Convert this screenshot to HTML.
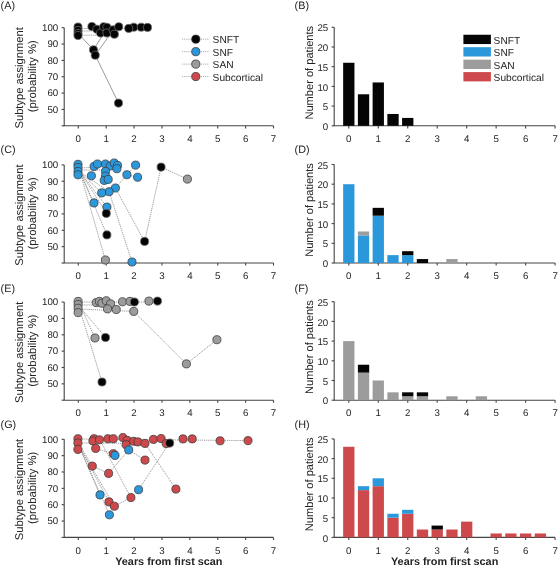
<!DOCTYPE html><html><head><meta charset="utf-8"><style>html,body{margin:0;padding:0;background:#fff;width:560px;height:567px;overflow:hidden}</style></head><body><svg width="560" height="567" viewBox="0 0 560 567" style="display:block;filter:blur(0.35px)" text-rendering="geometricPrecision" font-family='"Liberation Sans", sans-serif' fill="#232323">
<rect width="560" height="567" fill="#fff"/>
<text x="0.60" y="9.30" font-size="10.8" text-anchor="start" font-weight="normal" >(A)</text>
<text x="294.60" y="9.30" font-size="10.8" text-anchor="start" font-weight="normal" >(B)</text>
<text x="0.60" y="152.90" font-size="10.8" text-anchor="start" font-weight="normal" >(C)</text>
<text x="294.60" y="152.90" font-size="10.8" text-anchor="start" font-weight="normal" >(D)</text>
<text x="0.60" y="291.90" font-size="10.8" text-anchor="start" font-weight="normal" >(E)</text>
<text x="294.60" y="291.90" font-size="10.8" text-anchor="start" font-weight="normal" >(F)</text>
<text x="0.60" y="427.50" font-size="10.8" text-anchor="start" font-weight="normal" >(G)</text>
<text x="294.60" y="427.50" font-size="10.8" text-anchor="start" font-weight="normal" >(H)</text>
<path d="M64.20,27.70V125.80H273.50" fill="none" stroke="#444" stroke-width="1.1"/>
<path d="M61.60,125.80H64.20" stroke="#444" stroke-width="1.1"/>
<path d="M61.60,109.45H64.20" stroke="#444" stroke-width="1.1"/>
<text x="58.20" y="112.75" font-size="9.7" text-anchor="end" font-weight="normal" >50</text>
<path d="M61.60,93.10H64.20" stroke="#444" stroke-width="1.1"/>
<text x="58.20" y="96.40" font-size="9.7" text-anchor="end" font-weight="normal" >60</text>
<path d="M61.60,76.75H64.20" stroke="#444" stroke-width="1.1"/>
<text x="58.20" y="80.05" font-size="9.7" text-anchor="end" font-weight="normal" >70</text>
<path d="M61.60,60.40H64.20" stroke="#444" stroke-width="1.1"/>
<text x="58.20" y="63.70" font-size="9.7" text-anchor="end" font-weight="normal" >80</text>
<path d="M61.60,44.05H64.20" stroke="#444" stroke-width="1.1"/>
<text x="58.20" y="47.35" font-size="9.7" text-anchor="end" font-weight="normal" >90</text>
<path d="M61.60,27.70H64.20" stroke="#444" stroke-width="1.1"/>
<text x="58.20" y="31.00" font-size="9.7" text-anchor="end" font-weight="normal" >100</text>
<path d="M78.30,125.80V128.40" stroke="#444" stroke-width="1.1"/>
<text x="78.30" y="141.90" font-size="9.7" text-anchor="middle" font-weight="normal" >0</text>
<path d="M106.19,125.80V128.40" stroke="#444" stroke-width="1.1"/>
<text x="106.19" y="141.90" font-size="9.7" text-anchor="middle" font-weight="normal" >1</text>
<path d="M134.07,125.80V128.40" stroke="#444" stroke-width="1.1"/>
<text x="134.07" y="141.90" font-size="9.7" text-anchor="middle" font-weight="normal" >2</text>
<path d="M161.96,125.80V128.40" stroke="#444" stroke-width="1.1"/>
<text x="161.96" y="141.90" font-size="9.7" text-anchor="middle" font-weight="normal" >3</text>
<path d="M189.84,125.80V128.40" stroke="#444" stroke-width="1.1"/>
<text x="189.84" y="141.90" font-size="9.7" text-anchor="middle" font-weight="normal" >4</text>
<path d="M217.73,125.80V128.40" stroke="#444" stroke-width="1.1"/>
<text x="217.73" y="141.90" font-size="9.7" text-anchor="middle" font-weight="normal" >5</text>
<path d="M245.62,125.80V128.40" stroke="#444" stroke-width="1.1"/>
<text x="245.62" y="141.90" font-size="9.7" text-anchor="middle" font-weight="normal" >6</text>
<path d="M273.50,125.80V128.40" stroke="#444" stroke-width="1.1"/>
<text x="273.50" y="141.90" font-size="9.7" text-anchor="middle" font-weight="normal" >7</text>
<text transform="translate(23.3,77.85) rotate(-90)" font-size="11.2" text-anchor="middle">Subtype assignment</text>
<text transform="translate(35.8,76.25) rotate(-90)" font-size="11.3" text-anchor="middle">(probability %)</text>
<path d="M334.20,27.30V125.80H555.09" fill="none" stroke="#444" stroke-width="1.1"/>
<path d="M331.60,125.80H334.20" stroke="#444" stroke-width="1.1"/>
<text x="328.20" y="129.90" font-size="9.7" text-anchor="end" font-weight="normal" >0</text>
<path d="M331.60,106.10H334.20" stroke="#444" stroke-width="1.1"/>
<text x="328.20" y="110.20" font-size="9.7" text-anchor="end" font-weight="normal" >5</text>
<path d="M331.60,86.40H334.20" stroke="#444" stroke-width="1.1"/>
<text x="328.20" y="90.50" font-size="9.7" text-anchor="end" font-weight="normal" >10</text>
<path d="M331.60,66.70H334.20" stroke="#444" stroke-width="1.1"/>
<text x="328.20" y="70.80" font-size="9.7" text-anchor="end" font-weight="normal" >15</text>
<path d="M331.60,47.00H334.20" stroke="#444" stroke-width="1.1"/>
<text x="328.20" y="51.10" font-size="9.7" text-anchor="end" font-weight="normal" >20</text>
<path d="M331.60,27.30H334.20" stroke="#444" stroke-width="1.1"/>
<text x="328.20" y="31.40" font-size="9.7" text-anchor="end" font-weight="normal" >25</text>
<path d="M348.80,125.80V128.40" stroke="#444" stroke-width="1.1"/>
<text x="348.80" y="141.90" font-size="9.7" text-anchor="middle" font-weight="normal" >0</text>
<path d="M378.27,125.80V128.40" stroke="#444" stroke-width="1.1"/>
<text x="378.27" y="141.90" font-size="9.7" text-anchor="middle" font-weight="normal" >1</text>
<path d="M407.74,125.80V128.40" stroke="#444" stroke-width="1.1"/>
<text x="407.74" y="141.90" font-size="9.7" text-anchor="middle" font-weight="normal" >2</text>
<path d="M437.21,125.80V128.40" stroke="#444" stroke-width="1.1"/>
<text x="437.21" y="141.90" font-size="9.7" text-anchor="middle" font-weight="normal" >3</text>
<path d="M466.68,125.80V128.40" stroke="#444" stroke-width="1.1"/>
<text x="466.68" y="141.90" font-size="9.7" text-anchor="middle" font-weight="normal" >4</text>
<path d="M496.15,125.80V128.40" stroke="#444" stroke-width="1.1"/>
<text x="496.15" y="141.90" font-size="9.7" text-anchor="middle" font-weight="normal" >5</text>
<path d="M525.62,125.80V128.40" stroke="#444" stroke-width="1.1"/>
<text x="525.62" y="141.90" font-size="9.7" text-anchor="middle" font-weight="normal" >6</text>
<path d="M555.09,125.80V128.40" stroke="#444" stroke-width="1.1"/>
<text x="555.09" y="141.90" font-size="9.7" text-anchor="middle" font-weight="normal" >7</text>
<text transform="translate(312.8,72.75) rotate(-90)" font-size="11.1" text-anchor="middle">Number of patients</text>
<path d="M64.20,164.90V263.00H273.50" fill="none" stroke="#444" stroke-width="1.1"/>
<path d="M61.60,263.00H64.20" stroke="#444" stroke-width="1.1"/>
<path d="M61.60,246.65H64.20" stroke="#444" stroke-width="1.1"/>
<text x="58.20" y="249.95" font-size="9.7" text-anchor="end" font-weight="normal" >50</text>
<path d="M61.60,230.30H64.20" stroke="#444" stroke-width="1.1"/>
<text x="58.20" y="233.60" font-size="9.7" text-anchor="end" font-weight="normal" >60</text>
<path d="M61.60,213.95H64.20" stroke="#444" stroke-width="1.1"/>
<text x="58.20" y="217.25" font-size="9.7" text-anchor="end" font-weight="normal" >70</text>
<path d="M61.60,197.60H64.20" stroke="#444" stroke-width="1.1"/>
<text x="58.20" y="200.90" font-size="9.7" text-anchor="end" font-weight="normal" >80</text>
<path d="M61.60,181.25H64.20" stroke="#444" stroke-width="1.1"/>
<text x="58.20" y="184.55" font-size="9.7" text-anchor="end" font-weight="normal" >90</text>
<path d="M61.60,164.90H64.20" stroke="#444" stroke-width="1.1"/>
<text x="58.20" y="168.20" font-size="9.7" text-anchor="end" font-weight="normal" >100</text>
<path d="M78.30,263.00V265.60" stroke="#444" stroke-width="1.1"/>
<text x="78.30" y="279.10" font-size="9.7" text-anchor="middle" font-weight="normal" >0</text>
<path d="M106.19,263.00V265.60" stroke="#444" stroke-width="1.1"/>
<text x="106.19" y="279.10" font-size="9.7" text-anchor="middle" font-weight="normal" >1</text>
<path d="M134.07,263.00V265.60" stroke="#444" stroke-width="1.1"/>
<text x="134.07" y="279.10" font-size="9.7" text-anchor="middle" font-weight="normal" >2</text>
<path d="M161.96,263.00V265.60" stroke="#444" stroke-width="1.1"/>
<text x="161.96" y="279.10" font-size="9.7" text-anchor="middle" font-weight="normal" >3</text>
<path d="M189.84,263.00V265.60" stroke="#444" stroke-width="1.1"/>
<text x="189.84" y="279.10" font-size="9.7" text-anchor="middle" font-weight="normal" >4</text>
<path d="M217.73,263.00V265.60" stroke="#444" stroke-width="1.1"/>
<text x="217.73" y="279.10" font-size="9.7" text-anchor="middle" font-weight="normal" >5</text>
<path d="M245.62,263.00V265.60" stroke="#444" stroke-width="1.1"/>
<text x="245.62" y="279.10" font-size="9.7" text-anchor="middle" font-weight="normal" >6</text>
<path d="M273.50,263.00V265.60" stroke="#444" stroke-width="1.1"/>
<text x="273.50" y="279.10" font-size="9.7" text-anchor="middle" font-weight="normal" >7</text>
<text transform="translate(23.3,215.05) rotate(-90)" font-size="11.2" text-anchor="middle">Subtype assignment</text>
<text transform="translate(35.8,213.45) rotate(-90)" font-size="11.3" text-anchor="middle">(probability %)</text>
<path d="M334.20,164.50V263.00H555.09" fill="none" stroke="#444" stroke-width="1.1"/>
<path d="M331.60,263.00H334.20" stroke="#444" stroke-width="1.1"/>
<text x="328.20" y="267.10" font-size="9.7" text-anchor="end" font-weight="normal" >0</text>
<path d="M331.60,243.30H334.20" stroke="#444" stroke-width="1.1"/>
<text x="328.20" y="247.40" font-size="9.7" text-anchor="end" font-weight="normal" >5</text>
<path d="M331.60,223.60H334.20" stroke="#444" stroke-width="1.1"/>
<text x="328.20" y="227.70" font-size="9.7" text-anchor="end" font-weight="normal" >10</text>
<path d="M331.60,203.90H334.20" stroke="#444" stroke-width="1.1"/>
<text x="328.20" y="208.00" font-size="9.7" text-anchor="end" font-weight="normal" >15</text>
<path d="M331.60,184.20H334.20" stroke="#444" stroke-width="1.1"/>
<text x="328.20" y="188.30" font-size="9.7" text-anchor="end" font-weight="normal" >20</text>
<path d="M331.60,164.50H334.20" stroke="#444" stroke-width="1.1"/>
<text x="328.20" y="168.60" font-size="9.7" text-anchor="end" font-weight="normal" >25</text>
<path d="M348.80,263.00V265.60" stroke="#444" stroke-width="1.1"/>
<text x="348.80" y="279.10" font-size="9.7" text-anchor="middle" font-weight="normal" >0</text>
<path d="M378.27,263.00V265.60" stroke="#444" stroke-width="1.1"/>
<text x="378.27" y="279.10" font-size="9.7" text-anchor="middle" font-weight="normal" >1</text>
<path d="M407.74,263.00V265.60" stroke="#444" stroke-width="1.1"/>
<text x="407.74" y="279.10" font-size="9.7" text-anchor="middle" font-weight="normal" >2</text>
<path d="M437.21,263.00V265.60" stroke="#444" stroke-width="1.1"/>
<text x="437.21" y="279.10" font-size="9.7" text-anchor="middle" font-weight="normal" >3</text>
<path d="M466.68,263.00V265.60" stroke="#444" stroke-width="1.1"/>
<text x="466.68" y="279.10" font-size="9.7" text-anchor="middle" font-weight="normal" >4</text>
<path d="M496.15,263.00V265.60" stroke="#444" stroke-width="1.1"/>
<text x="496.15" y="279.10" font-size="9.7" text-anchor="middle" font-weight="normal" >5</text>
<path d="M525.62,263.00V265.60" stroke="#444" stroke-width="1.1"/>
<text x="525.62" y="279.10" font-size="9.7" text-anchor="middle" font-weight="normal" >6</text>
<path d="M555.09,263.00V265.60" stroke="#444" stroke-width="1.1"/>
<text x="555.09" y="279.10" font-size="9.7" text-anchor="middle" font-weight="normal" >7</text>
<text transform="translate(312.8,209.95) rotate(-90)" font-size="11.1" text-anchor="middle">Number of patients</text>
<path d="M64.20,302.10V400.20H273.50" fill="none" stroke="#444" stroke-width="1.1"/>
<path d="M61.60,400.20H64.20" stroke="#444" stroke-width="1.1"/>
<path d="M61.60,383.85H64.20" stroke="#444" stroke-width="1.1"/>
<text x="58.20" y="387.15" font-size="9.7" text-anchor="end" font-weight="normal" >50</text>
<path d="M61.60,367.50H64.20" stroke="#444" stroke-width="1.1"/>
<text x="58.20" y="370.80" font-size="9.7" text-anchor="end" font-weight="normal" >60</text>
<path d="M61.60,351.15H64.20" stroke="#444" stroke-width="1.1"/>
<text x="58.20" y="354.45" font-size="9.7" text-anchor="end" font-weight="normal" >70</text>
<path d="M61.60,334.80H64.20" stroke="#444" stroke-width="1.1"/>
<text x="58.20" y="338.10" font-size="9.7" text-anchor="end" font-weight="normal" >80</text>
<path d="M61.60,318.45H64.20" stroke="#444" stroke-width="1.1"/>
<text x="58.20" y="321.75" font-size="9.7" text-anchor="end" font-weight="normal" >90</text>
<path d="M61.60,302.10H64.20" stroke="#444" stroke-width="1.1"/>
<text x="58.20" y="305.40" font-size="9.7" text-anchor="end" font-weight="normal" >100</text>
<path d="M78.30,400.20V402.80" stroke="#444" stroke-width="1.1"/>
<text x="78.30" y="416.30" font-size="9.7" text-anchor="middle" font-weight="normal" >0</text>
<path d="M106.19,400.20V402.80" stroke="#444" stroke-width="1.1"/>
<text x="106.19" y="416.30" font-size="9.7" text-anchor="middle" font-weight="normal" >1</text>
<path d="M134.07,400.20V402.80" stroke="#444" stroke-width="1.1"/>
<text x="134.07" y="416.30" font-size="9.7" text-anchor="middle" font-weight="normal" >2</text>
<path d="M161.96,400.20V402.80" stroke="#444" stroke-width="1.1"/>
<text x="161.96" y="416.30" font-size="9.7" text-anchor="middle" font-weight="normal" >3</text>
<path d="M189.84,400.20V402.80" stroke="#444" stroke-width="1.1"/>
<text x="189.84" y="416.30" font-size="9.7" text-anchor="middle" font-weight="normal" >4</text>
<path d="M217.73,400.20V402.80" stroke="#444" stroke-width="1.1"/>
<text x="217.73" y="416.30" font-size="9.7" text-anchor="middle" font-weight="normal" >5</text>
<path d="M245.62,400.20V402.80" stroke="#444" stroke-width="1.1"/>
<text x="245.62" y="416.30" font-size="9.7" text-anchor="middle" font-weight="normal" >6</text>
<path d="M273.50,400.20V402.80" stroke="#444" stroke-width="1.1"/>
<text x="273.50" y="416.30" font-size="9.7" text-anchor="middle" font-weight="normal" >7</text>
<text transform="translate(23.3,352.25) rotate(-90)" font-size="11.2" text-anchor="middle">Subtype assignment</text>
<text transform="translate(35.8,350.65) rotate(-90)" font-size="11.3" text-anchor="middle">(probability %)</text>
<path d="M334.20,301.70V400.20H555.09" fill="none" stroke="#444" stroke-width="1.1"/>
<path d="M331.60,400.20H334.20" stroke="#444" stroke-width="1.1"/>
<text x="328.20" y="404.30" font-size="9.7" text-anchor="end" font-weight="normal" >0</text>
<path d="M331.60,380.50H334.20" stroke="#444" stroke-width="1.1"/>
<text x="328.20" y="384.60" font-size="9.7" text-anchor="end" font-weight="normal" >5</text>
<path d="M331.60,360.80H334.20" stroke="#444" stroke-width="1.1"/>
<text x="328.20" y="364.90" font-size="9.7" text-anchor="end" font-weight="normal" >10</text>
<path d="M331.60,341.10H334.20" stroke="#444" stroke-width="1.1"/>
<text x="328.20" y="345.20" font-size="9.7" text-anchor="end" font-weight="normal" >15</text>
<path d="M331.60,321.40H334.20" stroke="#444" stroke-width="1.1"/>
<text x="328.20" y="325.50" font-size="9.7" text-anchor="end" font-weight="normal" >20</text>
<path d="M331.60,301.70H334.20" stroke="#444" stroke-width="1.1"/>
<text x="328.20" y="305.80" font-size="9.7" text-anchor="end" font-weight="normal" >25</text>
<path d="M348.80,400.20V402.80" stroke="#444" stroke-width="1.1"/>
<text x="348.80" y="416.30" font-size="9.7" text-anchor="middle" font-weight="normal" >0</text>
<path d="M378.27,400.20V402.80" stroke="#444" stroke-width="1.1"/>
<text x="378.27" y="416.30" font-size="9.7" text-anchor="middle" font-weight="normal" >1</text>
<path d="M407.74,400.20V402.80" stroke="#444" stroke-width="1.1"/>
<text x="407.74" y="416.30" font-size="9.7" text-anchor="middle" font-weight="normal" >2</text>
<path d="M437.21,400.20V402.80" stroke="#444" stroke-width="1.1"/>
<text x="437.21" y="416.30" font-size="9.7" text-anchor="middle" font-weight="normal" >3</text>
<path d="M466.68,400.20V402.80" stroke="#444" stroke-width="1.1"/>
<text x="466.68" y="416.30" font-size="9.7" text-anchor="middle" font-weight="normal" >4</text>
<path d="M496.15,400.20V402.80" stroke="#444" stroke-width="1.1"/>
<text x="496.15" y="416.30" font-size="9.7" text-anchor="middle" font-weight="normal" >5</text>
<path d="M525.62,400.20V402.80" stroke="#444" stroke-width="1.1"/>
<text x="525.62" y="416.30" font-size="9.7" text-anchor="middle" font-weight="normal" >6</text>
<path d="M555.09,400.20V402.80" stroke="#444" stroke-width="1.1"/>
<text x="555.09" y="416.30" font-size="9.7" text-anchor="middle" font-weight="normal" >7</text>
<text transform="translate(312.8,347.15) rotate(-90)" font-size="11.1" text-anchor="middle">Number of patients</text>
<path d="M64.20,439.30V537.40H273.50" fill="none" stroke="#444" stroke-width="1.1"/>
<path d="M61.60,537.40H64.20" stroke="#444" stroke-width="1.1"/>
<path d="M61.60,521.05H64.20" stroke="#444" stroke-width="1.1"/>
<text x="58.20" y="524.35" font-size="9.7" text-anchor="end" font-weight="normal" >50</text>
<path d="M61.60,504.70H64.20" stroke="#444" stroke-width="1.1"/>
<text x="58.20" y="508.00" font-size="9.7" text-anchor="end" font-weight="normal" >60</text>
<path d="M61.60,488.35H64.20" stroke="#444" stroke-width="1.1"/>
<text x="58.20" y="491.65" font-size="9.7" text-anchor="end" font-weight="normal" >70</text>
<path d="M61.60,472.00H64.20" stroke="#444" stroke-width="1.1"/>
<text x="58.20" y="475.30" font-size="9.7" text-anchor="end" font-weight="normal" >80</text>
<path d="M61.60,455.65H64.20" stroke="#444" stroke-width="1.1"/>
<text x="58.20" y="458.95" font-size="9.7" text-anchor="end" font-weight="normal" >90</text>
<path d="M61.60,439.30H64.20" stroke="#444" stroke-width="1.1"/>
<text x="58.20" y="442.60" font-size="9.7" text-anchor="end" font-weight="normal" >100</text>
<path d="M78.30,537.40V540.00" stroke="#444" stroke-width="1.1"/>
<text x="78.30" y="553.50" font-size="9.7" text-anchor="middle" font-weight="normal" >0</text>
<path d="M106.19,537.40V540.00" stroke="#444" stroke-width="1.1"/>
<text x="106.19" y="553.50" font-size="9.7" text-anchor="middle" font-weight="normal" >1</text>
<path d="M134.07,537.40V540.00" stroke="#444" stroke-width="1.1"/>
<text x="134.07" y="553.50" font-size="9.7" text-anchor="middle" font-weight="normal" >2</text>
<path d="M161.96,537.40V540.00" stroke="#444" stroke-width="1.1"/>
<text x="161.96" y="553.50" font-size="9.7" text-anchor="middle" font-weight="normal" >3</text>
<path d="M189.84,537.40V540.00" stroke="#444" stroke-width="1.1"/>
<text x="189.84" y="553.50" font-size="9.7" text-anchor="middle" font-weight="normal" >4</text>
<path d="M217.73,537.40V540.00" stroke="#444" stroke-width="1.1"/>
<text x="217.73" y="553.50" font-size="9.7" text-anchor="middle" font-weight="normal" >5</text>
<path d="M245.62,537.40V540.00" stroke="#444" stroke-width="1.1"/>
<text x="245.62" y="553.50" font-size="9.7" text-anchor="middle" font-weight="normal" >6</text>
<path d="M273.50,537.40V540.00" stroke="#444" stroke-width="1.1"/>
<text x="273.50" y="553.50" font-size="9.7" text-anchor="middle" font-weight="normal" >7</text>
<text transform="translate(23.3,489.45) rotate(-90)" font-size="11.2" text-anchor="middle">Subtype assignment</text>
<text transform="translate(35.8,487.85) rotate(-90)" font-size="11.3" text-anchor="middle">(probability %)</text>
<path d="M334.20,438.90V537.40H555.09" fill="none" stroke="#444" stroke-width="1.1"/>
<path d="M331.60,537.40H334.20" stroke="#444" stroke-width="1.1"/>
<text x="328.20" y="541.50" font-size="9.7" text-anchor="end" font-weight="normal" >0</text>
<path d="M331.60,517.70H334.20" stroke="#444" stroke-width="1.1"/>
<text x="328.20" y="521.80" font-size="9.7" text-anchor="end" font-weight="normal" >5</text>
<path d="M331.60,498.00H334.20" stroke="#444" stroke-width="1.1"/>
<text x="328.20" y="502.10" font-size="9.7" text-anchor="end" font-weight="normal" >10</text>
<path d="M331.60,478.30H334.20" stroke="#444" stroke-width="1.1"/>
<text x="328.20" y="482.40" font-size="9.7" text-anchor="end" font-weight="normal" >15</text>
<path d="M331.60,458.60H334.20" stroke="#444" stroke-width="1.1"/>
<text x="328.20" y="462.70" font-size="9.7" text-anchor="end" font-weight="normal" >20</text>
<path d="M331.60,438.90H334.20" stroke="#444" stroke-width="1.1"/>
<text x="328.20" y="443.00" font-size="9.7" text-anchor="end" font-weight="normal" >25</text>
<path d="M348.80,537.40V540.00" stroke="#444" stroke-width="1.1"/>
<text x="348.80" y="553.50" font-size="9.7" text-anchor="middle" font-weight="normal" >0</text>
<path d="M378.27,537.40V540.00" stroke="#444" stroke-width="1.1"/>
<text x="378.27" y="553.50" font-size="9.7" text-anchor="middle" font-weight="normal" >1</text>
<path d="M407.74,537.40V540.00" stroke="#444" stroke-width="1.1"/>
<text x="407.74" y="553.50" font-size="9.7" text-anchor="middle" font-weight="normal" >2</text>
<path d="M437.21,537.40V540.00" stroke="#444" stroke-width="1.1"/>
<text x="437.21" y="553.50" font-size="9.7" text-anchor="middle" font-weight="normal" >3</text>
<path d="M466.68,537.40V540.00" stroke="#444" stroke-width="1.1"/>
<text x="466.68" y="553.50" font-size="9.7" text-anchor="middle" font-weight="normal" >4</text>
<path d="M496.15,537.40V540.00" stroke="#444" stroke-width="1.1"/>
<text x="496.15" y="553.50" font-size="9.7" text-anchor="middle" font-weight="normal" >5</text>
<path d="M525.62,537.40V540.00" stroke="#444" stroke-width="1.1"/>
<text x="525.62" y="553.50" font-size="9.7" text-anchor="middle" font-weight="normal" >6</text>
<path d="M555.09,537.40V540.00" stroke="#444" stroke-width="1.1"/>
<text x="555.09" y="553.50" font-size="9.7" text-anchor="middle" font-weight="normal" >7</text>
<text transform="translate(312.8,484.35) rotate(-90)" font-size="11.1" text-anchor="middle">Number of patients</text>
<path d="M78,28.5 L141,28.5" fill="none" stroke="#808080" stroke-width="0.8" stroke-dasharray="1.2 0.9"/>
<path d="M78,31 L113,31" fill="none" stroke="#808080" stroke-width="0.8" stroke-dasharray="1.2 0.9"/>
<path d="M78,35.2 L114,35.2" fill="none" stroke="#808080" stroke-width="0.8" stroke-dasharray="1.2 0.9"/>
<path d="M80,35.5 L93.5,49.8 L104,33" fill="none" stroke="#808080" stroke-width="0.8"/>
<path d="M95.25,55.2 L108.6,36.5" fill="none" stroke="#808080" stroke-width="0.8"/>
<path d="M95.25,55.2 L118.5,103.1" fill="none" stroke="#808080" stroke-width="0.8"/>
<circle cx="78" cy="27" r="4.05" fill="#050505" stroke="#6a6a6a" stroke-width="0.8"/>
<circle cx="78" cy="30.5" r="4.05" fill="#050505" stroke="#6a6a6a" stroke-width="0.8"/>
<circle cx="78" cy="33.5" r="4.05" fill="#050505" stroke="#6a6a6a" stroke-width="0.8"/>
<circle cx="78" cy="35.5" r="4.05" fill="#050505" stroke="#6a6a6a" stroke-width="0.8"/>
<circle cx="91.9" cy="26.5" r="4.05" fill="#050505" stroke="#6a6a6a" stroke-width="0.8"/>
<circle cx="96.9" cy="29.25" r="4.05" fill="#050505" stroke="#6a6a6a" stroke-width="0.8"/>
<circle cx="100.6" cy="33" r="4.05" fill="#050505" stroke="#6a6a6a" stroke-width="0.8"/>
<circle cx="103.75" cy="26.75" r="4.05" fill="#050505" stroke="#6a6a6a" stroke-width="0.8"/>
<circle cx="106.9" cy="27.4" r="4.05" fill="#050505" stroke="#6a6a6a" stroke-width="0.8"/>
<circle cx="106.9" cy="33" r="4.05" fill="#050505" stroke="#6a6a6a" stroke-width="0.8"/>
<circle cx="113.1" cy="29.9" r="4.05" fill="#050505" stroke="#6a6a6a" stroke-width="0.8"/>
<circle cx="114.4" cy="34.25" r="4.05" fill="#050505" stroke="#6a6a6a" stroke-width="0.8"/>
<circle cx="118.75" cy="26.75" r="4.05" fill="#050505" stroke="#6a6a6a" stroke-width="0.8"/>
<circle cx="133.75" cy="27.2" r="4.05" fill="#050505" stroke="#6a6a6a" stroke-width="0.8"/>
<circle cx="141.25" cy="27.2" r="4.05" fill="#050505" stroke="#6a6a6a" stroke-width="0.8"/>
<circle cx="147.5" cy="27.4" r="4.05" fill="#050505" stroke="#6a6a6a" stroke-width="0.8"/>
<circle cx="128.75" cy="28.4" r="4.05" fill="#050505" stroke="#6a6a6a" stroke-width="0.8"/>
<circle cx="93.5" cy="49.8" r="4.05" fill="#050505" stroke="#6a6a6a" stroke-width="0.8"/>
<circle cx="95.25" cy="55.2" r="4.05" fill="#050505" stroke="#6a6a6a" stroke-width="0.8"/>
<circle cx="118.5" cy="103.1" r="4.05" fill="#050505" stroke="#6a6a6a" stroke-width="0.8"/>
<path d="M80,172 L105.4,260" fill="none" stroke="#808080" stroke-width="0.8" stroke-dasharray="1.2 0.9"/>
<path d="M80,172 L107,235" fill="none" stroke="#808080" stroke-width="0.8" stroke-dasharray="1.2 0.9"/>
<path d="M80,172 L106.6,213" fill="none" stroke="#808080" stroke-width="0.8" stroke-dasharray="1.2 0.9"/>
<path d="M80,172 L109.1,191.7 L132,262" fill="none" stroke="#808080" stroke-width="0.8" stroke-dasharray="1.2 0.9"/>
<path d="M80,172 L94,202.9" fill="none" stroke="#808080" stroke-width="0.8" stroke-dasharray="1.2 0.9"/>
<path d="M80,172 L101.7,192.9" fill="none" stroke="#808080" stroke-width="0.8" stroke-dasharray="1.2 0.9"/>
<path d="M80,172 L106.9,207.1" fill="none" stroke="#808080" stroke-width="0.8" stroke-dasharray="1.2 0.9"/>
<path d="M115.4,188 L144.6,241.6 L161.1,167.1 L187.4,179.1" fill="none" stroke="#808080" stroke-width="0.8" stroke-dasharray="1.2 0.9"/>
<path d="M115.4,188 L126.9,174.75 L135.6,165.1" fill="none" stroke="#808080" stroke-width="0.8" stroke-dasharray="1.2 0.9"/>
<path d="M126.9,174.75 L137.6,177.2" fill="none" stroke="#808080" stroke-width="0.8" stroke-dasharray="1.2 0.9"/>
<path d="M80,168 L117,166" fill="none" stroke="#808080" stroke-width="0.8" stroke-dasharray="1.2 0.9"/>
<path d="M80,170 L110,170" fill="none" stroke="#808080" stroke-width="0.8" stroke-dasharray="1.2 0.9"/>
<circle cx="78" cy="164.3" r="4.05" fill="#2b98dc" stroke="#3c3c3c" stroke-width="0.8"/>
<circle cx="78" cy="167.4" r="4.05" fill="#2b98dc" stroke="#3c3c3c" stroke-width="0.8"/>
<circle cx="78" cy="171.4" r="4.05" fill="#2b98dc" stroke="#3c3c3c" stroke-width="0.8"/>
<circle cx="78" cy="174.75" r="4.05" fill="#2b98dc" stroke="#3c3c3c" stroke-width="0.8"/>
<circle cx="94.1" cy="166.4" r="4.05" fill="#2b98dc" stroke="#3c3c3c" stroke-width="0.8"/>
<circle cx="97.5" cy="164" r="4.05" fill="#2b98dc" stroke="#3c3c3c" stroke-width="0.8"/>
<circle cx="91.4" cy="175.8" r="4.05" fill="#2b98dc" stroke="#3c3c3c" stroke-width="0.8"/>
<circle cx="105.5" cy="164" r="4.05" fill="#2b98dc" stroke="#3c3c3c" stroke-width="0.8"/>
<circle cx="110.2" cy="166" r="4.05" fill="#2b98dc" stroke="#3c3c3c" stroke-width="0.8"/>
<circle cx="114.2" cy="163" r="4.05" fill="#2b98dc" stroke="#3c3c3c" stroke-width="0.8"/>
<circle cx="117.5" cy="165.4" r="4.05" fill="#2b98dc" stroke="#3c3c3c" stroke-width="0.8"/>
<circle cx="116.9" cy="168.7" r="4.05" fill="#2b98dc" stroke="#3c3c3c" stroke-width="0.8"/>
<circle cx="105.5" cy="171.4" r="4.05" fill="#2b98dc" stroke="#3c3c3c" stroke-width="0.8"/>
<circle cx="105.5" cy="176.1" r="4.05" fill="#2b98dc" stroke="#3c3c3c" stroke-width="0.8"/>
<circle cx="104.2" cy="180.4" r="4.05" fill="#2b98dc" stroke="#3c3c3c" stroke-width="0.8"/>
<circle cx="108.2" cy="179.4" r="4.05" fill="#2b98dc" stroke="#3c3c3c" stroke-width="0.8"/>
<circle cx="135.6" cy="165.1" r="4.05" fill="#2b98dc" stroke="#3c3c3c" stroke-width="0.8"/>
<circle cx="126.9" cy="174.75" r="4.05" fill="#2b98dc" stroke="#3c3c3c" stroke-width="0.8"/>
<circle cx="137.6" cy="177.2" r="4.05" fill="#2b98dc" stroke="#3c3c3c" stroke-width="0.8"/>
<circle cx="115.4" cy="188" r="4.05" fill="#2b98dc" stroke="#3c3c3c" stroke-width="0.8"/>
<circle cx="109.1" cy="191.7" r="4.05" fill="#2b98dc" stroke="#3c3c3c" stroke-width="0.8"/>
<circle cx="101.7" cy="192.9" r="4.05" fill="#2b98dc" stroke="#3c3c3c" stroke-width="0.8"/>
<circle cx="94" cy="202.9" r="4.05" fill="#2b98dc" stroke="#3c3c3c" stroke-width="0.8"/>
<circle cx="106.9" cy="207.1" r="4.05" fill="#2b98dc" stroke="#3c3c3c" stroke-width="0.8"/>
<circle cx="132" cy="262" r="4.05" fill="#2b98dc" stroke="#3c3c3c" stroke-width="0.8"/>
<circle cx="106.3" cy="213.4" r="4.05" fill="#050505" stroke="#6a6a6a" stroke-width="0.8"/>
<circle cx="106.9" cy="234.9" r="4.05" fill="#050505" stroke="#6a6a6a" stroke-width="0.8"/>
<circle cx="144.6" cy="241.4" r="4.05" fill="#050505" stroke="#6a6a6a" stroke-width="0.8"/>
<circle cx="161.1" cy="167.1" r="4.05" fill="#050505" stroke="#6a6a6a" stroke-width="0.8"/>
<circle cx="187.4" cy="179.1" r="4.05" fill="#9c9c9c" stroke="#3c3c3c" stroke-width="0.8"/>
<circle cx="105.4" cy="260" r="4.05" fill="#9c9c9c" stroke="#3c3c3c" stroke-width="0.8"/>
<path d="M80,305 L95,338" fill="none" stroke="#808080" stroke-width="0.8" stroke-dasharray="1.2 0.9"/>
<path d="M80,307 L105.5,337.5" fill="none" stroke="#808080" stroke-width="0.8" stroke-dasharray="1.2 0.9"/>
<path d="M80,310 L102,382" fill="none" stroke="#808080" stroke-width="0.8" stroke-dasharray="1.2 0.9"/>
<path d="M78,302 L157,302" fill="none" stroke="#808080" stroke-width="0.8" stroke-dasharray="1.2 0.9"/>
<path d="M78,305 L112,305" fill="none" stroke="#808080" stroke-width="0.8" stroke-dasharray="1.2 0.9"/>
<path d="M78,309 L133.75,311.4" fill="none" stroke="#808080" stroke-width="0.8" stroke-dasharray="1.2 0.9"/>
<path d="M133.75,311.4 L186.4,363.9 L216.9,339.7" fill="none" stroke="#808080" stroke-width="0.8" stroke-dasharray="1.2 0.9"/>
<circle cx="78.1" cy="301.4" r="4.05" fill="#9c9c9c" stroke="#3c3c3c" stroke-width="0.8"/>
<circle cx="78.1" cy="304.5" r="4.05" fill="#9c9c9c" stroke="#3c3c3c" stroke-width="0.8"/>
<circle cx="78.1" cy="308.25" r="4.05" fill="#9c9c9c" stroke="#3c3c3c" stroke-width="0.8"/>
<circle cx="78.1" cy="312.6" r="4.05" fill="#9c9c9c" stroke="#3c3c3c" stroke-width="0.8"/>
<circle cx="96.25" cy="302.6" r="4.05" fill="#9c9c9c" stroke="#3c3c3c" stroke-width="0.8"/>
<circle cx="99.4" cy="301.4" r="4.05" fill="#9c9c9c" stroke="#3c3c3c" stroke-width="0.8"/>
<circle cx="101.9" cy="303.25" r="4.05" fill="#9c9c9c" stroke="#3c3c3c" stroke-width="0.8"/>
<circle cx="106.25" cy="300.75" r="4.05" fill="#9c9c9c" stroke="#3c3c3c" stroke-width="0.8"/>
<circle cx="110.6" cy="303.9" r="4.05" fill="#9c9c9c" stroke="#3c3c3c" stroke-width="0.8"/>
<circle cx="107.5" cy="308.9" r="4.05" fill="#9c9c9c" stroke="#3c3c3c" stroke-width="0.8"/>
<circle cx="116.25" cy="309.5" r="4.05" fill="#9c9c9c" stroke="#3c3c3c" stroke-width="0.8"/>
<circle cx="122.5" cy="301.75" r="4.05" fill="#9c9c9c" stroke="#3c3c3c" stroke-width="0.8"/>
<circle cx="130" cy="301.4" r="4.05" fill="#9c9c9c" stroke="#3c3c3c" stroke-width="0.8"/>
<circle cx="148.9" cy="301.1" r="4.05" fill="#9c9c9c" stroke="#3c3c3c" stroke-width="0.8"/>
<circle cx="133.75" cy="311.4" r="4.05" fill="#9c9c9c" stroke="#3c3c3c" stroke-width="0.8"/>
<circle cx="95" cy="338" r="4.05" fill="#9c9c9c" stroke="#3c3c3c" stroke-width="0.8"/>
<circle cx="186.4" cy="363.9" r="4.05" fill="#9c9c9c" stroke="#3c3c3c" stroke-width="0.8"/>
<circle cx="216.9" cy="339.7" r="4.05" fill="#9c9c9c" stroke="#3c3c3c" stroke-width="0.8"/>
<circle cx="134.4" cy="302" r="4.05" fill="#050505" stroke="#6a6a6a" stroke-width="0.8"/>
<circle cx="157.5" cy="301.1" r="4.05" fill="#050505" stroke="#6a6a6a" stroke-width="0.8"/>
<circle cx="105.5" cy="337.5" r="4.05" fill="#050505" stroke="#6a6a6a" stroke-width="0.8"/>
<circle cx="102" cy="382" r="4.05" fill="#050505" stroke="#6a6a6a" stroke-width="0.8"/>
<path d="M79,444 L92.3,466.1 L108.6,473.4 L128.7,449.9" fill="none" stroke="#808080" stroke-width="0.8" stroke-dasharray="1.2 0.9"/>
<path d="M79,446 L109,501.9" fill="none" stroke="#808080" stroke-width="0.8" stroke-dasharray="1.2 0.9"/>
<path d="M79,446 L114.4,506.2 L130.9,497.6 L138.6,489.7" fill="none" stroke="#808080" stroke-width="0.8" stroke-dasharray="1.2 0.9"/>
<path d="M79,446 L100,494.9" fill="none" stroke="#808080" stroke-width="0.8" stroke-dasharray="1.2 0.9"/>
<path d="M79,446 L109.4,514.8" fill="none" stroke="#808080" stroke-width="0.8" stroke-dasharray="1.2 0.9"/>
<path d="M145,443.4 L175.9,489.1" fill="none" stroke="#808080" stroke-width="0.8" stroke-dasharray="1.2 0.9"/>
<path d="M138.6,489.7 L169.4,443" fill="none" stroke="#808080" stroke-width="0.8" stroke-dasharray="1.2 0.9"/>
<path d="M95.7,448.4 L113.3,453.7" fill="none" stroke="#808080" stroke-width="0.8" stroke-dasharray="1.2 0.9"/>
<path d="M128.7,449.9 L145,460.1" fill="none" stroke="#808080" stroke-width="0.8" stroke-dasharray="1.2 0.9"/>
<path d="M100,440 L130.9,497.6" fill="none" stroke="#808080" stroke-width="0.8" stroke-dasharray="1.2 0.9"/>
<path d="M78,439 L248,440.6" fill="none" stroke="#808080" stroke-width="0.8" stroke-dasharray="1.2 0.9"/>
<path d="M78,443 L145,443.4" fill="none" stroke="#808080" stroke-width="0.8" stroke-dasharray="1.2 0.9"/>
<circle cx="77.9" cy="438.7" r="4.05" fill="#ce494b" stroke="#3c3c3c" stroke-width="0.8"/>
<circle cx="77.9" cy="443" r="4.05" fill="#ce494b" stroke="#3c3c3c" stroke-width="0.8"/>
<circle cx="77.9" cy="449.4" r="4.05" fill="#ce494b" stroke="#3c3c3c" stroke-width="0.8"/>
<circle cx="94" cy="438.7" r="4.05" fill="#ce494b" stroke="#3c3c3c" stroke-width="0.8"/>
<circle cx="92.9" cy="440.9" r="4.05" fill="#ce494b" stroke="#3c3c3c" stroke-width="0.8"/>
<circle cx="99.4" cy="439.8" r="4.05" fill="#ce494b" stroke="#3c3c3c" stroke-width="0.8"/>
<circle cx="107.9" cy="438.7" r="4.05" fill="#ce494b" stroke="#3c3c3c" stroke-width="0.8"/>
<circle cx="113.3" cy="438.7" r="4.05" fill="#ce494b" stroke="#3c3c3c" stroke-width="0.8"/>
<circle cx="122.9" cy="437.6" r="4.05" fill="#ce494b" stroke="#3c3c3c" stroke-width="0.8"/>
<circle cx="127.2" cy="440.4" r="4.05" fill="#ce494b" stroke="#3c3c3c" stroke-width="0.8"/>
<circle cx="133.6" cy="441.3" r="4.05" fill="#ce494b" stroke="#3c3c3c" stroke-width="0.8"/>
<circle cx="137.9" cy="441.9" r="4.05" fill="#ce494b" stroke="#3c3c3c" stroke-width="0.8"/>
<circle cx="145" cy="443.4" r="4.05" fill="#ce494b" stroke="#3c3c3c" stroke-width="0.8"/>
<circle cx="153.5" cy="439.4" r="4.05" fill="#ce494b" stroke="#3c3c3c" stroke-width="0.8"/>
<circle cx="161.1" cy="438.5" r="4.05" fill="#ce494b" stroke="#3c3c3c" stroke-width="0.8"/>
<circle cx="166.2" cy="443.6" r="4.05" fill="#ce494b" stroke="#3c3c3c" stroke-width="0.8"/>
<circle cx="183" cy="438.9" r="4.05" fill="#ce494b" stroke="#3c3c3c" stroke-width="0.8"/>
<circle cx="192.2" cy="438.9" r="4.05" fill="#ce494b" stroke="#3c3c3c" stroke-width="0.8"/>
<circle cx="220.1" cy="440.8" r="4.05" fill="#ce494b" stroke="#3c3c3c" stroke-width="0.8"/>
<circle cx="248" cy="440.6" r="4.05" fill="#ce494b" stroke="#3c3c3c" stroke-width="0.8"/>
<circle cx="95.7" cy="448.4" r="4.05" fill="#ce494b" stroke="#3c3c3c" stroke-width="0.8"/>
<circle cx="126.1" cy="444.7" r="4.05" fill="#ce494b" stroke="#3c3c3c" stroke-width="0.8"/>
<circle cx="113.3" cy="453.7" r="4.05" fill="#ce494b" stroke="#3c3c3c" stroke-width="0.8"/>
<circle cx="145" cy="460.1" r="4.05" fill="#ce494b" stroke="#3c3c3c" stroke-width="0.8"/>
<circle cx="92.3" cy="466.1" r="4.05" fill="#ce494b" stroke="#3c3c3c" stroke-width="0.8"/>
<circle cx="108.6" cy="473.4" r="4.05" fill="#ce494b" stroke="#3c3c3c" stroke-width="0.8"/>
<circle cx="130.9" cy="497.6" r="4.05" fill="#ce494b" stroke="#3c3c3c" stroke-width="0.8"/>
<circle cx="109" cy="501.9" r="4.05" fill="#ce494b" stroke="#3c3c3c" stroke-width="0.8"/>
<circle cx="114.4" cy="506.2" r="4.05" fill="#ce494b" stroke="#3c3c3c" stroke-width="0.8"/>
<circle cx="175.9" cy="489.1" r="4.05" fill="#ce494b" stroke="#3c3c3c" stroke-width="0.8"/>
<circle cx="115" cy="455.4" r="4.05" fill="#2b98dc" stroke="#3c3c3c" stroke-width="0.8"/>
<circle cx="128.7" cy="449.9" r="4.05" fill="#2b98dc" stroke="#3c3c3c" stroke-width="0.8"/>
<circle cx="100" cy="494.9" r="4.05" fill="#2b98dc" stroke="#3c3c3c" stroke-width="0.8"/>
<circle cx="138.6" cy="489.7" r="4.05" fill="#2b98dc" stroke="#3c3c3c" stroke-width="0.8"/>
<circle cx="109.4" cy="514.8" r="4.05" fill="#2b98dc" stroke="#3c3c3c" stroke-width="0.8"/>
<circle cx="169.7" cy="443.1" r="4.05" fill="#050505" stroke="#6a6a6a" stroke-width="0.8"/>
<rect x="343.15" y="62.76" width="11.3" height="63.04" fill="#050505"/>
<rect x="357.89" y="94.28" width="11.3" height="31.52" fill="#050505"/>
<rect x="372.62" y="82.46" width="11.3" height="43.34" fill="#050505"/>
<rect x="387.36" y="113.98" width="11.3" height="11.82" fill="#050505"/>
<rect x="402.09" y="117.92" width="11.3" height="7.88" fill="#050505"/>
<rect x="343.15" y="184.20" width="11.3" height="78.80" fill="#2b98dc"/>
<rect x="357.89" y="235.42" width="11.3" height="27.58" fill="#2b98dc"/>
<rect x="357.89" y="231.48" width="11.3" height="3.94" fill="#9c9c9c"/>
<rect x="372.62" y="215.72" width="11.3" height="47.28" fill="#2b98dc"/>
<rect x="372.62" y="207.84" width="11.3" height="7.88" fill="#050505"/>
<rect x="387.36" y="255.12" width="11.3" height="7.88" fill="#2b98dc"/>
<rect x="402.09" y="255.12" width="11.3" height="7.88" fill="#2b98dc"/>
<rect x="402.09" y="251.18" width="11.3" height="3.94" fill="#050505"/>
<rect x="416.83" y="259.06" width="11.3" height="3.94" fill="#050505"/>
<rect x="446.30" y="259.06" width="11.3" height="3.94" fill="#9c9c9c"/>
<rect x="343.15" y="341.10" width="11.3" height="59.10" fill="#9c9c9c"/>
<rect x="357.89" y="372.62" width="11.3" height="27.58" fill="#9c9c9c"/>
<rect x="357.89" y="364.74" width="11.3" height="7.88" fill="#050505"/>
<rect x="372.62" y="380.50" width="11.3" height="19.70" fill="#9c9c9c"/>
<rect x="387.36" y="392.32" width="11.3" height="7.88" fill="#9c9c9c"/>
<rect x="402.09" y="396.26" width="11.3" height="3.94" fill="#9c9c9c"/>
<rect x="402.09" y="392.32" width="11.3" height="3.94" fill="#050505"/>
<rect x="416.83" y="396.26" width="11.3" height="3.94" fill="#9c9c9c"/>
<rect x="416.83" y="392.32" width="11.3" height="3.94" fill="#050505"/>
<rect x="446.30" y="396.26" width="11.3" height="3.94" fill="#9c9c9c"/>
<rect x="475.77" y="396.26" width="11.3" height="3.94" fill="#9c9c9c"/>
<rect x="343.15" y="446.78" width="11.3" height="90.62" fill="#ce494b"/>
<rect x="357.89" y="490.12" width="11.3" height="47.28" fill="#ce494b"/>
<rect x="357.89" y="486.18" width="11.3" height="3.94" fill="#2b98dc"/>
<rect x="372.62" y="486.18" width="11.3" height="51.22" fill="#ce494b"/>
<rect x="372.62" y="478.30" width="11.3" height="7.88" fill="#2b98dc"/>
<rect x="387.36" y="517.70" width="11.3" height="19.70" fill="#ce494b"/>
<rect x="387.36" y="513.76" width="11.3" height="3.94" fill="#2b98dc"/>
<rect x="402.09" y="513.76" width="11.3" height="23.64" fill="#ce494b"/>
<rect x="402.09" y="509.82" width="11.3" height="3.94" fill="#2b98dc"/>
<rect x="416.83" y="529.52" width="11.3" height="7.88" fill="#ce494b"/>
<rect x="431.56" y="529.52" width="11.3" height="7.88" fill="#ce494b"/>
<rect x="431.56" y="525.58" width="11.3" height="3.94" fill="#050505"/>
<rect x="446.30" y="529.52" width="11.3" height="7.88" fill="#ce494b"/>
<rect x="461.03" y="521.64" width="11.3" height="15.76" fill="#ce494b"/>
<rect x="490.50" y="533.46" width="11.3" height="3.94" fill="#ce494b"/>
<rect x="505.24" y="533.46" width="11.3" height="3.94" fill="#ce494b"/>
<rect x="519.97" y="533.46" width="11.3" height="3.94" fill="#ce494b"/>
<rect x="534.71" y="533.46" width="11.3" height="3.94" fill="#ce494b"/>
<path d="M182,39.20H209.4" stroke="#8a8a8a" stroke-width="0.7" stroke-dasharray="1.2 0.9"/>
<circle cx="195.8" cy="39.20" r="4.1" fill="#050505" stroke="#3a3a3a" stroke-width="0.8"/>
<text x="212.60" y="43.40" font-size="10.2" text-anchor="start" font-weight="normal" >SNFT</text>
<path d="M182,51.65H209.4" stroke="#8a8a8a" stroke-width="0.7" stroke-dasharray="1.2 0.9"/>
<circle cx="195.8" cy="51.65" r="4.1" fill="#2b98dc" stroke="#3a3a3a" stroke-width="0.8"/>
<text x="212.60" y="55.85" font-size="10.2" text-anchor="start" font-weight="normal" >SNF</text>
<path d="M182,64.10H209.4" stroke="#8a8a8a" stroke-width="0.7" stroke-dasharray="1.2 0.9"/>
<circle cx="195.8" cy="64.10" r="4.1" fill="#9c9c9c" stroke="#3a3a3a" stroke-width="0.8"/>
<text x="212.60" y="68.30" font-size="10.2" text-anchor="start" font-weight="normal" >SAN</text>
<path d="M182,76.55H209.4" stroke="#8a8a8a" stroke-width="0.7" stroke-dasharray="1.2 0.9"/>
<circle cx="195.8" cy="76.55" r="4.1" fill="#ce494b" stroke="#3a3a3a" stroke-width="0.8"/>
<text x="212.60" y="80.75" font-size="10.2" text-anchor="start" font-weight="normal" >Subcortical</text>
<rect x="463.4" y="34.75" width="27.5" height="9.3" fill="#050505"/>
<text x="493.60" y="43.60" font-size="10.2" text-anchor="start" font-weight="normal" >SNFT</text>
<rect x="463.4" y="47.20" width="27.5" height="9.3" fill="#2b98dc"/>
<text x="493.60" y="56.05" font-size="10.2" text-anchor="start" font-weight="normal" >SNF</text>
<rect x="463.4" y="59.65" width="27.5" height="9.3" fill="#9c9c9c"/>
<text x="493.60" y="68.50" font-size="10.2" text-anchor="start" font-weight="normal" >SAN</text>
<rect x="463.4" y="72.10" width="27.5" height="9.3" fill="#ce494b"/>
<text x="493.60" y="80.95" font-size="10.2" text-anchor="start" font-weight="normal" >Subcortical</text>
<text x="168.85" y="564.90" font-size="10.85" text-anchor="middle" font-weight="bold" >Years from first scan</text>
<text x="444.64" y="564.90" font-size="10.85" text-anchor="middle" font-weight="bold" >Years from first scan</text>
</svg></body></html>
